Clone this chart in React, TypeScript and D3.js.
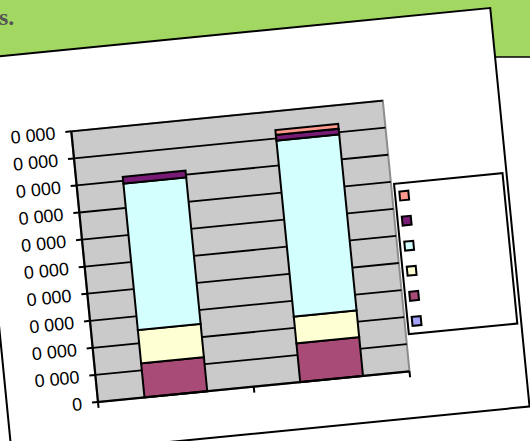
import * as d3 from "d3";
import { useEffect, useRef } from "react";

// categories (no labels shown on the axis)
const categories = ["Cat 1", "Cat 2"];

// series, bottom to top of each stack
const seriesNames = ["S1", "S2", "S3", "S4", "S5", "S6"];
const seriesColors = ["#a3a3ff", "#a84b77", "#ffffd4", "#d4ffff", "#771b75", "#ff9a8c"];
const s1 = [0, 0];
const s2 = [12600, 14300];
const s3 = [12300, 9900];
const s4 = [54100, 65000];
const s5 = [2500, 2100];
const s6 = [0, 1800];

const yTicks = [0, 10000, 20000, 30000, 40000, 50000, 60000, 70000, 80000, 90000, 100000];
const yTickLabels = ["0", "0 000", "0 000", "0 000", "0 000", "0 000", "0 000", "0 000", "0 000", "0 000", "0 000"];

export default function App() {
  const svgRef = useRef<SVGSVGElement | null>(null);

  useEffect(() => {
    const width = 530;
    const height = 441;
    const plotW = 313;
    const plotH = 272;

    const svg = d3.select(svgRef.current);
    svg.selectAll("*").remove();

    svg.append("rect").attr("width", width).attr("height", height).attr("fill", "#fff");

    // green banner behind the tilted card
    svg.append("rect").attr("width", width).attr("height", 57).attr("fill", "#a2d762");
    svg.append("line")
      .attr("x1", 0).attr("x2", width).attr("y1", 57).attr("y2", 57)
      .attr("stroke", "#000").attr("stroke-width", 1.5);
    svg.append("text")
      .attr("x", -1).attr("y", 25)
      .style("font-family", "'Liberation Serif', serif")
      .style("font-weight", "bold")
      .style("font-size", "24px")
      .style("fill", "#555")
      .text("s.");

    // the whole chart is tilted
    const g = svg.append("g").attr("transform", "translate(98,402) rotate(-5.63)");

    g.append("rect")
      .attr("x", -91).attr("y", -353.6).attr("width", 520).attr("height", 400.4)
      .attr("fill", "#fff").attr("stroke", "#000").attr("stroke-width", 2);

    const x = d3.scaleBand<string>().domain(categories).range([0, plotW])
      .paddingInner(0.597).paddingOuter(0.2985);
    const y = d3.scaleLinear().domain([0, 100000]).range([0, -plotH]);

    g.append("rect")
      .attr("x", 0).attr("y", -plotH).attr("width", plotW).attr("height", plotH)
      .attr("fill", "#cacaca").attr("stroke", "#8c8c8c").attr("stroke-width", 2);

    g.selectAll("line.grid")
      .data(yTicks.slice(1))
      .join("line")
      .attr("class", "grid")
      .attr("x1", 0).attr("x2", plotW)
      .attr("y1", (d) => y(d)).attr("y2", (d) => y(d))
      .attr("stroke", "#000").attr("stroke-width", 1.8);

    const table = categories.map((c, i) => ({
      cat: c,
      S1: s1[i], S2: s2[i], S3: s3[i], S4: s4[i], S5: s5[i], S6: s6[i],
    }));
    const stacked = d3.stack<any>().keys(seriesNames)(table);

    stacked.forEach((layer, si) => {
      g.append("g")
        .selectAll("rect")
        .data(layer.filter((d) => d[1] - d[0] > 0))
        .join("rect")
        .attr("x", (d) => x(d.data.cat)!)
        .attr("width", x.bandwidth())
        .attr("y", (d) => y(d[1]))
        .attr("height", (d) => y(d[0]) - y(d[1]))
        .attr("fill", seriesColors[si])
        .attr("stroke", "#000")
        .attr("stroke-width", 2);
    });

    // axes
    g.append("line").attr("x1", 0).attr("x2", 0).attr("y1", -plotH).attr("y2", 0)
      .attr("stroke", "#000").attr("stroke-width", 2.2);
    g.append("line").attr("x1", -1).attr("x2", plotW).attr("y1", 0).attr("y2", 0)
      .attr("stroke", "#000").attr("stroke-width", 2.2);

    g.selectAll("line.ytick")
      .data(yTicks)
      .join("line")
      .attr("class", "ytick")
      .attr("x1", -6).attr("x2", 0)
      .attr("y1", (d) => y(d)).attr("y2", (d) => y(d))
      .attr("stroke", "#000").attr("stroke-width", 2);

    g.selectAll("line.xtick")
      .data([0, plotW / 2, plotW])
      .join("line")
      .attr("class", "xtick")
      .attr("x1", (d) => d).attr("x2", (d) => d)
      .attr("y1", 0).attr("y2", 6)
      .attr("stroke", "#000").attr("stroke-width", 2);

    g.selectAll("text.ylab")
      .data(yTicks)
      .join("text")
      .attr("class", "ylab")
      .attr("x", -16)
      .attr("y", (d) => y(d))
      .attr("dy", "0.36em")
      .style("text-anchor", "end")
      .style("font-family", "'Liberation Sans', Arial, sans-serif")
      .style("font-size", "18px")
      .style("fill", "#000")
      .text((d, i) => yTickLabels[i]);

    // legend (reverse order of the stack)
    g.append("rect")
      .attr("x", 316).attr("y", -188).attr("width", 109).attr("height", 151)
      .attr("fill", "#fff").attr("stroke", "#000").attr("stroke-width", 2);

    const legendColors = seriesColors.slice().reverse();
    g.selectAll("rect.key")
      .data(legendColors)
      .join("rect")
      .attr("class", "key")
      .attr("x", 325 - 4.5)
      .attr("y", (d, i) => -175.4 + i * 25.2 - 4.5)
      .attr("width", 9).attr("height", 9)
      .attr("fill", (d) => d)
      .attr("stroke", "#000").attr("stroke-width", 2);
  }, []);

  return (
    <div style={{ position: "absolute", left: 0, top: 0, width: 530, height: 441, overflow: "hidden" }}>
      <svg ref={svgRef} width={530} height={441} style={{ display: "block" }} />
    </div>
  );
}
